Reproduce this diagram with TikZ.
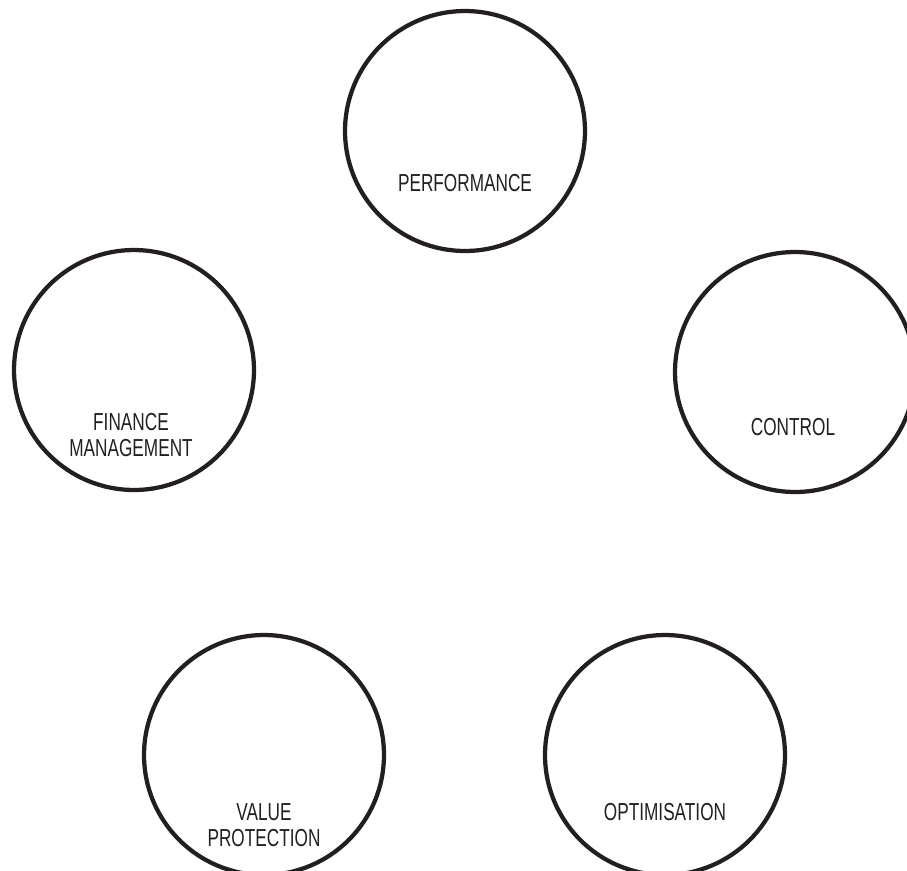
\documentclass[tikz,border=0pt]{standalone}
\usepackage{fontspec}
\setmainfont{Liberation Sans}[FakeStretch=0.7]
\usepackage{xcolor}
\definecolor{inkblack}{RGB}{35, 31, 32}

\tikzset{
  ring/.style={circle, draw=inkblack, line width=0.085cm, minimum size=4.8cm, inner sep=0pt},
  ringtext/.style={anchor=north, text=inkblack, align=center, font=\fontsize{14}{14.7}\selectfont, inner sep=0pt}
}

\begin{document}
\begin{tikzpicture}[x=0.02cm, y=-0.02cm]
    \clip (0,0) rectangle (907,870);
    \useasboundingbox (0,0) rectangle (907,870);

    % Top circle
    \node[ring] (perf) at (465,131) {};
    \node[ringtext] (perftext) at ([yshift=-0.86cm]perf.center) {PERFORMANCE};

    % Right circle
    \node[ring] (ctrl) at (795,372) {};
    \node[ringtext] (ctrltext) at ([xshift=-0.04cm, yshift=-0.92cm]ctrl.center) {CONTROL};

    % Left circle
    \node[ring] (fin) at (134,370) {};
    \node[ringtext] (fintext) at ([xshift=-0.06cm, yshift=-0.86cm]fin.center) {FINANCE\\MANAGEMENT};

    % Bottom left circle
    \node[ring] (value) at (264,755) {};
    \node[ringtext] (valuetext) at ([yshift=-0.96cm]value.center) {VALUE\\PROTECTION};

    % Bottom right circle
    \node[ring] (optim) at (665,755) {};
    \node[ringtext] (optimtext) at ([yshift=-0.96cm]optim.center) {OPTIMISATION};
\end{tikzpicture}
\end{document}
